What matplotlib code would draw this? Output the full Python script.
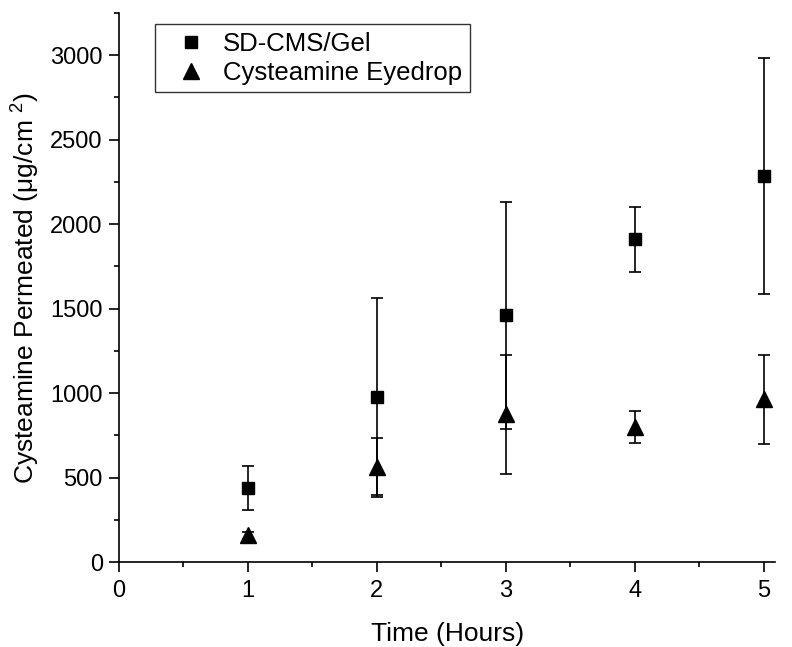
import matplotlib
matplotlib.use("Agg")
import matplotlib.pyplot as plt
from matplotlib.ticker import MultipleLocator
from matplotlib.lines import Line2D

plt.rcParams['font.family'] = ['Liberation Sans', 'DejaVu Sans']
plt.rcParams['mathtext.fontset'] = 'custom'
plt.rcParams['mathtext.rm'] = 'Liberation Sans'
plt.rcParams['mathtext.it'] = 'Liberation Sans'

time_hours = [1, 2, 3, 4, 5]
gel_mean = [440, 975, 1460, 1910, 2285]
gel_err = [128, 590, 670, 192, 700]
eyedrop_mean = [160, 565, 875, 800, 963]
eyedrop_err = [20, 168, 350, 93, 265]
series_labels = ['SD-CMS/Gel', 'Cysteamine Eyedrop']

fig = plt.figure(figsize=(7.92, 6.47), dpi=100)
ax = fig.add_axes([0.150, 0.131, 0.829, 0.849])

ax.errorbar(time_hours, gel_mean, yerr=gel_err, fmt='s', color='black',
            markersize=9, capsize=4.3, elinewidth=1.2, capthick=1.2)
ax.errorbar(time_hours, eyedrop_mean, yerr=eyedrop_err, fmt='^', color='black',
            markersize=11, capsize=4.3, elinewidth=1.2, capthick=1.2)

ax.set_xlim(0, 5.09)
ax.set_ylim(0, 3250)
ax.xaxis.set_major_locator(MultipleLocator(1))
ax.xaxis.set_minor_locator(MultipleLocator(0.5))
ax.yaxis.set_major_locator(MultipleLocator(500))
ax.yaxis.set_minor_locator(MultipleLocator(250))

for s in ['top', 'right']:
    ax.spines[s].set_visible(False)
for s in ['left', 'bottom']:
    ax.spines[s].set_linewidth(1.2)

ax.tick_params(which='major', direction='out', length=7.5, width=1.2, labelsize=17, pad=4)
ax.tick_params(axis='x', which='major', pad=5.5)
ax.tick_params(which='minor', direction='out', length=3.6, width=1.2)

ax.set_xlabel('Time (Hours)', fontsize=19, labelpad=14)
ax.set_ylabel(r'Cysteamine Permeated (μg/cm $^{2}$)', fontsize=19, labelpad=6)

handles = [Line2D([], [], ls='none', marker='s', color='black', markersize=9),
           Line2D([], [], ls='none', marker='^', color='black', markersize=11)]
leg = ax.legend(handles, series_labels, loc='upper left',
                bbox_to_anchor=(0.055, 0.980), borderaxespad=0,
                fontsize=18.5, frameon=True, fancybox=False, handlelength=2.2,
                handletextpad=0.15, borderpad=0.3, labelspacing=0.2)
leg.get_frame().set_edgecolor('black')
leg.get_frame().set_linewidth(1.0)

fig.savefig('out.png', dpi=100)
